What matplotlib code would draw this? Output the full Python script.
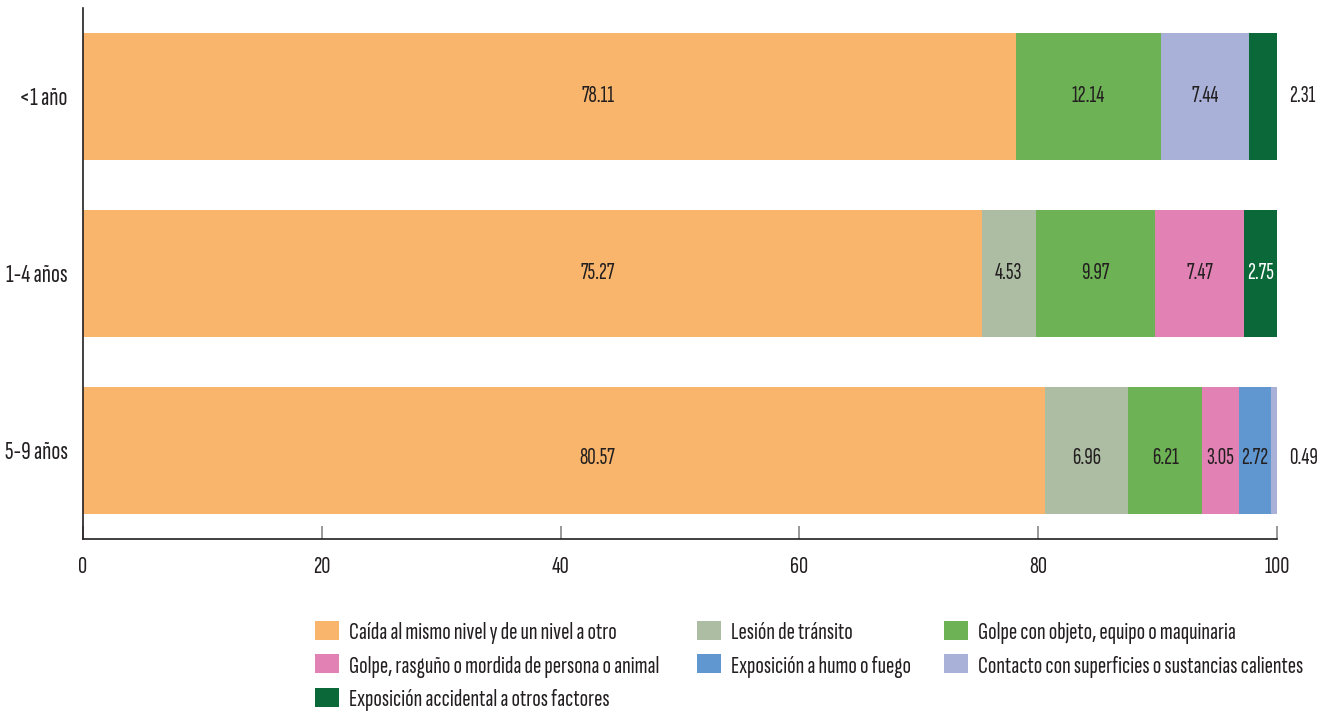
import numpy as np
import matplotlib.pyplot as plt

plt.rcParams['font.family'] = ['Sofia Sans Extra Condensed', 'Fira Sans Extra Condensed', 'DejaVu Sans']

groups = ['<1 año', '1-4 años', '5-9 años']
causes = ['Caída al mismo nivel y de un nivel a otro',
          'Lesión de tránsito',
          'Golpe con objeto, equipo o maquinaria',
          'Golpe, rasguño o mordida de persona o animal',
          'Exposición a humo o fuego',
          'Contacto con superficies o sustancias calientes',
          'Exposición accidental a otros factores']
caida = [78.11, 75.27, 80.57]
transito = [0, 4.53, 6.96]
golpe_obj = [12.14, 9.97, 6.21]
golpe_rasg = [0, 7.47, 3.05]
humo = [0, 0, 2.72]
contacto = [7.44, 0, 0.49]
otros = [2.31, 2.75, 0]
series = [caida, transito, golpe_obj, golpe_rasg, humo, contacto, otros]
colors = ['#F9B56B', '#ADBDA3', '#6EB256', '#E282B4', '#6197D0', '#A9B1D9', '#0B6839']
txt = '#231f20'

fig = plt.figure(figsize=(13.26, 7.13), dpi=100)
ax = fig.add_axes([0.0626, 0.244, 0.9005, 0.745])

y = np.arange(len(groups))
row_dy = [0, 0, 0.04]  # labels of the last row sit a bit low in the original
left = np.zeros(len(groups))
handles = []
for s_i, (vals, c, name) in enumerate(zip(series, colors, causes)):
    vals = np.array(vals)
    h = ax.barh(y, vals, left=left, height=0.72, color=c, label=name)
    handles.append(h)
    for i, v in enumerate(vals):
        if v <= 0:
            continue
        yy = i + row_dy[i]
        if v < 1 or (i == 0 and c == '#0B6839'):
            # small end segments get their label outside the bar
            ax.text(101.0, yy, f'{v:.2f}', va='center', ha='left', fontsize=17, color=txt)
        elif s_i == 0:
            # the big segment's labels are all at the same spot
            ax.text(43.1, yy, f'{v:.2f}', va='center', ha='center', fontsize=17, color=txt)
        else:
            tc = 'white' if c == '#0B6839' else txt
            ax.text(left[i] + v / 2, yy, f'{v:.2f}', va='center', ha='center', fontsize=17, color=tc)
    left += vals

ax.set_xlim(0, 100)
ax.set_ylim(2.5, -0.5)
ax.set_yticks(y)
ax.set_yticklabels(groups, fontsize=19, color=txt)
ax.tick_params(axis='y', length=0, pad=11)
ax.set_xticks([0, 20, 40, 60, 80, 100])
ax.tick_params(axis='x', direction='in', length=9.5, width=1.2, color='#888888',
               labelsize=18, labelcolor=txt, pad=12)
for s in ['top', 'right']:
    ax.spines[s].set_visible(False)
for s in ['left', 'bottom']:
    ax.spines[s].set_color(txt)
    ax.spines[s].set_linewidth(1.2)

# legend: three columns placed one by one
legend_cols = [[0, 3, 6], [1, 4], [2, 5]]
col_x = [315 / 1326, 697 / 1326, 944 / 1326]
for idx, x0 in zip(legend_cols, col_x):
    lg = fig.legend([handles[k] for k in idx], [causes[k] for k in idx],
                    loc='upper left', bbox_to_anchor=(x0, 0.129), frameon=False,
                    fontsize=18, handlelength=0.95, handleheight=0.8, handletextpad=0.4,
                    labelspacing=0.4, borderaxespad=0, borderpad=0, labelcolor=txt)

fig.savefig('out.png', dpi=100)
